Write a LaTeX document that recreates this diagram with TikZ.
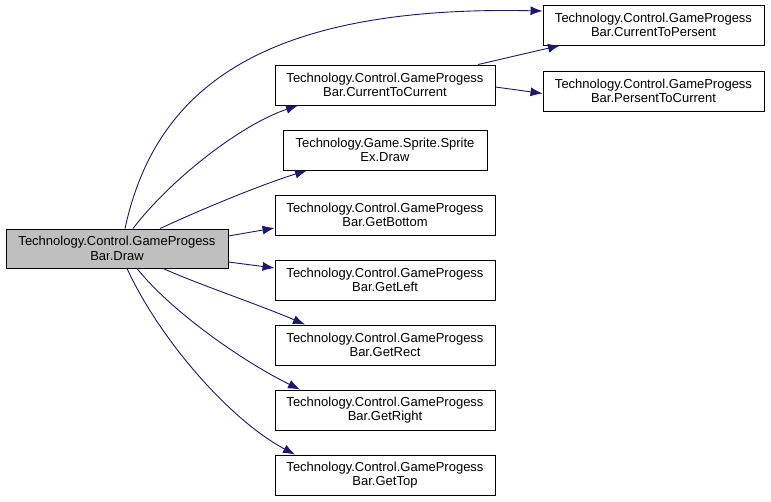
\documentclass[tikz,border=0pt]{standalone}
\usepackage{fontspec}
\setmainfont{Liberation Sans}
\usetikzlibrary{arrows.meta}
\definecolor{edgeblue}{HTML}{191970}
\definecolor{maingray}{HTML}{BFBFBF}
\begin{document}
\begin{tikzpicture}[x=1pt,y=-1pt,
  box/.style={draw=black, line width=0.9pt, fill=white, rectangle, inner sep=0pt,
    minimum width=220pt, minimum height=40pt, align=center,
    font=\fontsize{13}{14.5}\selectfont},
  mainbox/.style={box, fill=maingray, minimum width=222pt, minimum height=39pt},
  link/.style={draw=edgeblue, line width=0.9pt, -{Latex[length=12pt,width=9pt]}}]
\useasboundingbox[fill=white] (0,0) rectangle (771,501);
\node[mainbox] (main) at (117,248.5) {Technology.Control.GameProgess\\Bar.Draw};
\node[box] (cc) at (385,85) {Technology.Control.GameProgess\\Bar.CurrentToCurrent};
\node[box, minimum width=204pt] (sprite) at (385,150) {Technology.Game.Sprite.Sprite\\Ex.Draw};
\node[box] (bottom) at (385,215) {Technology.Control.GameProgess\\Bar.GetBottom};
\node[box] (left) at (385,280) {Technology.Control.GameProgess\\Bar.GetLeft};
\node[box] (rect) at (385,345) {Technology.Control.GameProgess\\Bar.GetRect};
\node[box] (right) at (385,410) {Technology.Control.GameProgess\\Bar.GetRight};
\node[box] (top) at (385,475) {Technology.Control.GameProgess\\Bar.GetTop};
\node[box, minimum width=221pt] (cp) at (653.5,25) {Technology.Control.GameProgess\\Bar.CurrentToPersent};
\node[box, minimum width=221pt] (pc) at (653.5,91) {Technology.Control.GameProgess\\Bar.PersentToCurrent};

\draw[link] ([xshift=8pt]main.north) .. controls (155,90) and (260,5) .. ([yshift=14pt]cp.west);
\draw[link] ([xshift=16pt]main.north) .. controls (170,180) and (240,125) .. ([xshift=-87pt]cc.south);
\draw[link] ([xshift=43pt]main.north) .. controls (200,210) and (260,185) .. ([xshift=-78pt]sprite.south);
\draw[link] ([yshift=12.5pt]main.east) -- ([yshift=-13pt]bottom.west);
\draw[link] ([yshift=-13.5pt]main.east) -- ([yshift=12pt]left.west);
\draw[link] ([xshift=46pt]main.south) .. controls (200,285) and (260,305) .. ([xshift=-80pt]rect.north);
\draw[link] ([xshift=20pt]main.south) .. controls (170,310) and (240,360) .. ([xshift=-85pt]right.north);
\draw[link] ([xshift=10pt]main.south) .. controls (160,340) and (230,420) .. ([xshift=-90pt]top.north);
\draw[link] ([xshift=93pt]cc.north) -- ([xshift=-93.5pt]cp.south);
\draw[link] ([yshift=-2pt]cc.east) -- ([yshift=-2.5pt]pc.west);
\end{tikzpicture}
\end{document}
